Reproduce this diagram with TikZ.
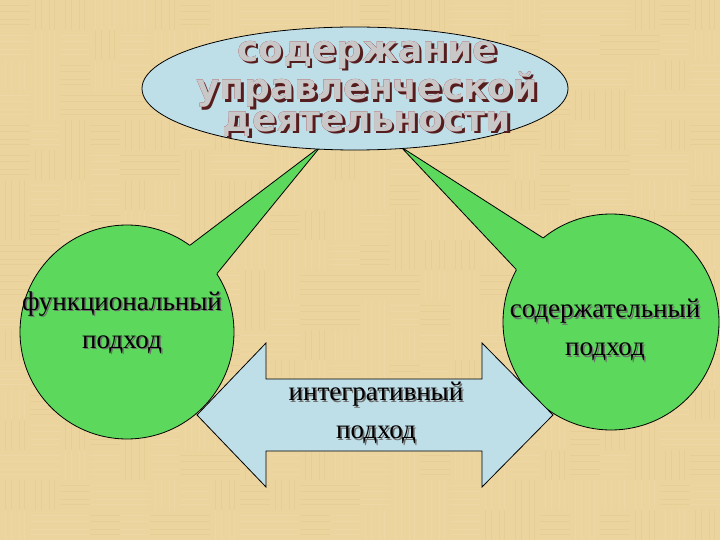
\documentclass[tikz,border=0pt]{standalone}
\usepackage{fontspec}
\usepackage{pdfrender}
\setmainfont{Liberation Serif}
\newfontfamily\titlefont{DejaVu Sans}
\usetikzlibrary{shapes.geometric}
\definecolor{bg}{RGB}{236,212,158}
\definecolor{bgdark}{RGB}{214,186,126}
\definecolor{bglight}{RGB}{246,228,186}
\definecolor{grn}{RGB}{92,216,92}
\definecolor{lblue}{RGB}{191,223,232}
\definecolor{wfill}{RGB}{200,200,200}
\definecolor{wout}{RGB}{150,12,24}
\definecolor{wshadow}{RGB}{85,30,30}
\definecolor{tshadow}{RGB}{110,110,110}
\newcommand\wa[1]{\leavevmode
 \rlap{\hspace{2.6pt}\raisebox{-2.6pt}{\textcolor{wshadow}{\textpdfrender{TextRenderingMode=FillStroke,LineWidth=2.4}{#1}}}}%
 \rlap{\textcolor{wout}{\textpdfrender{TextRenderingMode=FillStroke,LineWidth=2.4}{#1}}}%
 \textcolor{wfill}{\textpdfrender{TextRenderingMode=Fill}{#1}}}
\newcommand\sh[1]{\leavevmode\rlap{\hspace{1.5pt}\raisebox{-1.5pt}{\textcolor{tshadow}{\textpdfrender{TextRenderingMode=Fill}{#1}}}}#1}
\tikzset{
  outl/.style={draw=black, line width=0.8pt},
  circ/.style={circle, outl, fill=grn, minimum size=#1, inner sep=0pt},
  lbl/.style={align=center, font=\fontsize{27}{38}\selectfont, inner sep=0pt},
}
\begin{document}
\begin{tikzpicture}[x=1pt,y=-1pt]
\useasboundingbox (0,0) rectangle (720,540);
% background
\fill[bg] (0,0) rectangle (720,540);
\pgfmathsetseed{7}
\foreach \bx in {0,...,23}{
  \foreach \by in {0,...,17}{
    \pgfmathparse{int(random(0,1))}\edef\orient{\pgfmathresult}
    \pgfmathparse{int(random(0,1))}\edef\tone{\pgfmathresult}
    \ifnum\tone=0 \def\tc{bgdark}\else\def\tc{bglight}\fi
    \ifnum\orient=0
      \foreach \k in {5,11,19,24}{
        \fill[\tc, opacity=0.22] (\bx*30+\k,\by*30) rectangle ++(1.2,30);
      }
    \else
      \foreach \k in {5,11,19,24}{
        \fill[\tc, opacity=0.22] (\bx*30,\by*30+\k) rectangle ++(30,1.2);
      }
    \fi
  }
}
% circles
\node[circ=214pt] (fc) at (127,332) {};
\node[circ=216pt] (sc) at (611,322) {};
% callout wedges
\coordinate (ltip) at (321,146);
\coordinate (rtip) at (401,147);
\fill[grn] (fc.54.4) -- (ltip) -- (fc.33) -- (fc.center) -- cycle;
\draw[outl, line join=miter] (fc.54.4) -- (ltip) -- (fc.33);
\fill[grn] (sc.129.4) -- (rtip) -- (sc.151) -- (sc.center) -- cycle;
\draw[outl, line join=miter] (sc.129.4) -- (rtip) -- (sc.151);
% ellipse
\node[ellipse, outl, fill=lblue, minimum width=426pt, minimum height=123pt, inner sep=0pt] (el) at (355,88.5) {};
\node[align=center, inner sep=0pt, font=\titlefont\bfseries\fontsize{36}{29.5}\selectfont] (title) at (367,90)
  {\wa{содержание}\\\wa{управленческой}\\\wa{деятельности}};
% double arrow
\coordinate (al) at (197,415);
\coordinate (ar) at (553,415);
\fill[lblue, draw=black, line width=0.8pt, line join=miter]
  (al) -- (266,343) -- (266,379) -- (482,379) -- (482,343) -- (ar)
  -- (482,487) -- (482,451) -- (266,451) -- (266,487) -- cycle;
% labels
\node[lbl] (ft) at (122,323) {\sh{функциональный}\\\sh{подход}};
\node[lbl] (st) at (605,331) {\sh{содержательный}\\\sh{подход}};
\node[lbl] (it) at (376,414) {\sh{интегративный}\\\sh{подход}};
\end{tikzpicture}
\end{document}
